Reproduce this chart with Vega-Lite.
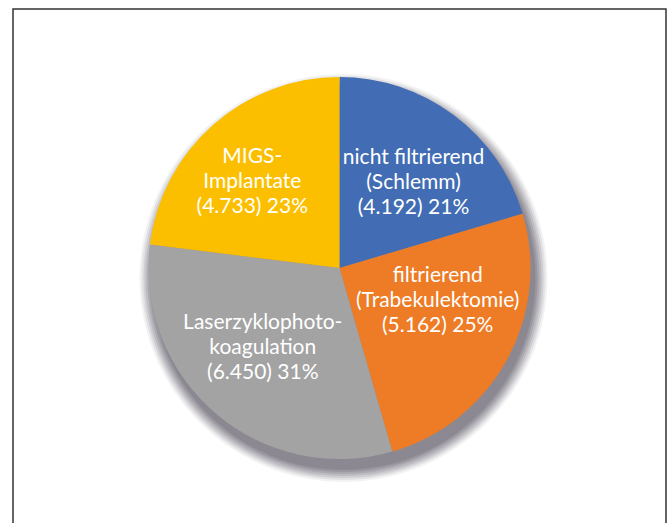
{
  "$schema": "https://vega.github.io/schema/vega-lite/v6.json",
  "width": 653,
  "height": 518,
  "autosize": {"type": "none"},
  "padding": {"left": 13, "top": 9, "right": 1, "bottom": 0},
  "background": "white",
  "view": {"stroke": "#333333", "strokeWidth": 1.5, "fill": "white"},
  "config": {"view": {"stroke": "#333333", "strokeWidth": 1.5}, "style": {"cell": {"stroke": "#333333", "strokeWidth": 1.5}}},
  "data": {
    "values": [
      {"category": "nicht filtrierend (Schlemm)", "value": 4192, "order": 1, "label": "nicht filtrierend\n(Schlemm)\n(4.192) 21%"},
      {"category": "filtrierend (Trabekulektomie)", "value": 5162, "order": 2, "label": "filtrierend\n(Trabekulektomie)\n(5.162) 25%"},
      {"category": "Laserzyklophotokoagulation", "value": 6450, "order": 3, "label": "Laserzyklophoto-\nkoagulation\n(6.450) 31%"},
      {"category": "MIGS-Implantate", "value": 4733, "order": 4, "label": "MIGS-\nImplantate\n(4.733) 23%"}
    ]
  },
  "layer": [
    {"mark": {"type": "arc", "radius": 204, "color": "#3a3242", "opacity": 0.06, "xOffset": 4, "yOffset": 10}, "encoding": {"theta": {"aggregate": "sum", "field": "value", "type": "quantitative"}}},
    {"mark": {"type": "arc", "radius": 202, "color": "#3a3242", "opacity": 0.09, "xOffset": 4, "yOffset": 10}, "encoding": {"theta": {"aggregate": "sum", "field": "value", "type": "quantitative"}}},
    {"mark": {"type": "arc", "radius": 200, "color": "#3a3242", "opacity": 0.11, "xOffset": 4, "yOffset": 10}, "encoding": {"theta": {"aggregate": "sum", "field": "value", "type": "quantitative"}}},
    {"mark": {"type": "arc", "radius": 198, "color": "#3a3242", "opacity": 0.12, "xOffset": 4, "yOffset": 10}, "encoding": {"theta": {"aggregate": "sum", "field": "value", "type": "quantitative"}}},
    {"mark": {"type": "arc", "radius": 196, "color": "#3a3242", "opacity": 0.13, "xOffset": 4, "yOffset": 10}, "encoding": {"theta": {"aggregate": "sum", "field": "value", "type": "quantitative"}}},
    {"mark": {"type": "arc", "radius": 194, "color": "#3a3242", "opacity": 0.14, "xOffset": 4, "yOffset": 10}, "encoding": {"theta": {"aggregate": "sum", "field": "value", "type": "quantitative"}}},
    {"mark": {"type": "arc", "radius": 192, "color": "#3a3242", "opacity": 0.14, "xOffset": 4, "yOffset": 10}, "encoding": {"theta": {"aggregate": "sum", "field": "value", "type": "quantitative"}}},
    {
      "mark": {"type": "arc", "radius": 191},
      "encoding": {
        "theta": {"field": "value", "type": "quantitative", "stack": true},
        "order": {"field": "order", "type": "quantitative", "sort": "ascending"},
        "color": {
          "field": "category",
          "type": "nominal",
          "legend": null,
          "scale": {
            "domain": ["nicht filtrierend (Schlemm)", "filtrierend (Trabekulektomie)", "Laserzyklophotokoagulation", "MIGS-Implantate"],
            "range": ["#426DB4", "#EE7B25", "#A3A3A3", "#FBBF00"]
          }
        }
      }
    },
    {
      "mark": {"type": "text", "radius": 112, "dx": 7, "dy": -20, "font": "Lato", "fontSize": 21, "lineHeight": 25, "color": "white", "align": "center", "baseline": "middle", "lineBreak": "\n"},
      "encoding": {
        "theta": {"field": "value", "type": "quantitative", "stack": true},
        "order": {"field": "order", "type": "quantitative", "sort": "ascending"},
        "text": {"condition": {"test": "datum.order === 1", "field": "label"}, "value": ""}
      }
    },
    {
      "mark": {"type": "text", "radius": 112, "dx": 0, "dy": -46, "font": "Lato", "fontSize": 21, "lineHeight": 25, "color": "white", "align": "center", "baseline": "middle", "lineBreak": "\n"},
      "encoding": {
        "theta": {"field": "value", "type": "quantitative", "stack": true},
        "order": {"field": "order", "type": "quantitative", "sort": "ascending"},
        "text": {"condition": {"test": "datum.order === 2", "field": "label"}, "value": ""}
      }
    },
    {
      "mark": {"type": "text", "radius": 112, "dx": -4, "dy": -30, "font": "Lato", "fontSize": 21, "lineHeight": 25, "color": "white", "align": "center", "baseline": "middle", "lineBreak": "\n"},
      "encoding": {
        "theta": {"field": "value", "type": "quantitative", "stack": true},
        "order": {"field": "order", "type": "quantitative", "sort": "ascending"},
        "text": {"condition": {"test": "datum.order === 3", "field": "label"}, "value": ""}
      }
    },
    {
      "mark": {"type": "text", "radius": 112, "dx": -13, "dy": -27, "font": "Lato", "fontSize": 21, "lineHeight": 25, "color": "white", "align": "center", "baseline": "middle", "lineBreak": "\n"},
      "encoding": {
        "theta": {"field": "value", "type": "quantitative", "stack": true},
        "order": {"field": "order", "type": "quantitative", "sort": "ascending"},
        "text": {"condition": {"test": "datum.order === 4", "field": "label"}, "value": ""}
      }
    }
  ]
}
